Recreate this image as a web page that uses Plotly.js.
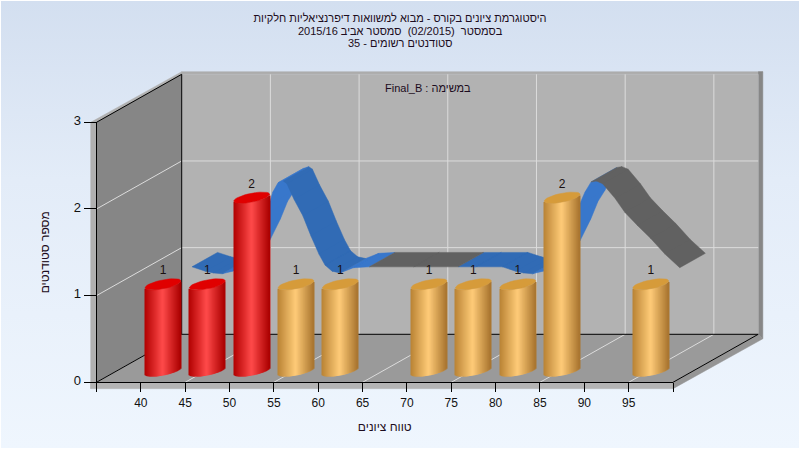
<!DOCTYPE html>
<html><head><meta charset="utf-8">
<script src="https://cdn.plot.ly/plotly-3.0.1.min.js"></script>
<style>
html,body{margin:0;padding:0;background:#fff;width:800px;height:450px;overflow:hidden}
#bg{position:absolute;left:1px;top:1px;width:798px;height:447px;background:linear-gradient(180deg,#d3dff0 0%,#e3ecf8 40%,#eff6fe 100%)}
#chart{position:absolute;left:0;top:0;width:800px;height:450px}
</style></head><body>
<div id="bg"></div><div id="chart"></div>
<script>
// ---- data ----
const binCentres = [42.5,47.5,52.5,57.5,62.5,67.5,72.5,77.5,82.5,87.5,92.5,97.5];
const binCounts  = [1,1,2,1,1,0,1,1,1,2,0,1];
const tickValues = [35,40,45,50,55,60,65,70,75,80,85,90,95,100];
const tickLabels = ['','40','45','50','55','60','65','70','75','80','85','90','95',''];
const countTicks = [0,1,2,3];
const gridScores = [45,55,65,75,85,95];
const gridCounts = [1,2];
const ribbonX = [40,41.5,42.4,43.4,44.6,45.9,47.1,47.9,48.7,49.1,49.7,50.3,50.7,51.5,52.5,53.4,54.3,55,55.8,56.7,58.2,60,65,70,72,75,76.5,77.4,78.4,79.6,80.9,82.1,82.9,83.7,84.3,85,85.6,86.3,87.7,88.8,90.2,91.7,93.3,95];
const ribbonV = [1,0.95,0.93,0.92,0.95,1.14,1.39,1.59,1.72,1.86,1.97,1.99,1.96,1.78,1.59,1.36,1.15,1.02,0.95,0.93,0.99,1,1,1,1,1,0.95,0.93,0.92,0.95,1.14,1.39,1.59,1.72,1.86,1.98,1.99,1.96,1.79,1.63,1.48,1.33,1.15,0.99];
const greyRanges = [[60,70],[85,95]];
const titleLines = ['היסטוגרמת ציונים בקורס - מבוא למשוואות דיפרנציאליות חלקיות','בסמסטר  (02/2015)  סמסטר אביב 2015/16','סטודנטים רשומים - 35'];
const listLabel = 'Final_B : במשימה';
const xTitle = 'טווח ציונים';
const yTitle = 'מספר סטודנטים';

// ---- geometry of the oblique box, in page pixels ----
const W=800,H=450,L=96.5,R=673,Y0=382.3,Y3=122.3;
const pxX=(R-L)/65, pxY=(Y0-Y3)/3;
const depthX=85.2/pxX, depthY=48/pxY;
const proj=(x,v,z)=>[x+z*depthX, v+z*depthY];
const font='"Liberation Sans",Arial,sans-serif';

function poly(pts,color,name){
  return {type:'scatter',mode:'lines',x:pts.map(p=>p&&p[0]),y:pts.map(p=>p&&p[1]),fill:'toself',fillcolor:color,
    line:{color:color,width:0.5},hoverinfo:'skip',showlegend:false,xaxis:'x',yaxis:'y',name:name};
}
function lines(segs,color,width){
  const xs=[],ys=[];
  segs.forEach(s=>{s.forEach(p=>{xs.push(p[0]);ys.push(p[1]);});xs.push(null);ys.push(null);});
  return {type:'scatter',mode:'lines',x:xs,y:ys,line:{color:color,width:width},hoverinfo:'skip',showlegend:false,xaxis:'x',yaxis:'y',connectgaps:false};
}
const bx=5.8/pxX, by=6.4/pxY, ty=2.6/pxY;  // outer rim thickness
const traces=[];
// outer rims
traces.push(poly([[35-bx,-by],[35-bx,3],[35+depthX,3+depthY+ty],[35+depthX,3+depthY],[35,3],[35,0]],'#b0b0b0','rim-left'));
traces.push(poly([[35+depthX,3+depthY],[35+depthX,3+depthY+ty],[100+depthX+bx*0.8,3+depthY+ty],[100+depthX,3+depthY]],'#adadad','rim-top'));
traces.push(poly([[100+depthX,3+depthY+ty],[100+depthX+bx*0.8,3+depthY+ty],[100+depthX+bx*0.8,depthY-by*0.7],[100+depthX,depthY]],'#878787','rim-right'));
traces.push(poly([[35-bx,0],[35-bx,-by],[100,-by],[100,0]],'#b4b4b4','rim-bottom'));
traces.push(poly([[100,0],[100,-by],[100+depthX+bx*0.8,depthY-by*0.7],[100+depthX,depthY]],'#959595','rim-floor'));
// walls
traces.push(poly([proj(35,0,0),proj(35,3,0),proj(35,3,1),proj(35,0,1)],'#868686','left wall'));
traces.push(poly([proj(35,0,1),proj(35,3,1),proj(100,3,1),proj(100,0,1)],'#b2b2b2','back wall'));
traces.push(poly([proj(35,0,0),proj(35,0,1),proj(100,0,1),proj(100,0,0)],'#9a9a9a','floor'));
// grid
const gridSegs=[];
gridScores.forEach(s=>{gridSegs.push([proj(s,0,0),proj(s,0,1),proj(s,3,1)]);});
gridCounts.forEach(c=>{gridSegs.push([proj(35,c,0),proj(35,c,1),proj(100,c,1)]);});
traces.push(lines(gridSegs,'#dcdcdc',1));
// box edges
traces.push(lines([[proj(35,3,0),proj(35,3,1),proj(35,0,1),proj(35,0,0)],[proj(35,0,1),proj(100,0,1),proj(100,0,0)]],'#000',1));
// ribbon
const Z0=0.6,Z1=0.9;
const light=[],dark=[],grey=[];
for(let i=0;i<ribbonX.length-1;i++){
  const q=[proj(ribbonX[i],ribbonV[i],Z0),proj(ribbonX[i+1],ribbonV[i+1],Z0),proj(ribbonX[i+1],ribbonV[i+1],Z1),proj(ribbonX[i],ribbonV[i],Z1)];
  let a=0;q.forEach((p,k)=>{const n=q[(k+1)%4];a+=p[0]*n[1]-n[0]*p[1];});
  if(a<0)q.reverse();
  const isGrey=greyRanges.some(r=>ribbonX[i]>=r[0]&&ribbonX[i+1]<=r[1]);
  const tgt=isGrey?grey:(ribbonV[i+1]-ribbonV[i]>0.005?light:dark);
  tgt.push(...q,q[0],null);
}
traces.push(poly(light,'#3877cb','ribbon rising'));
traces.push(poly(dark,'#316bb5','ribbon falling'));
traces.push(poly(grey,'#616161','ribbon grey'));

// ---- cylinders on the real axes ----
const isFail=c=>c<55;
const redStops=[[176,0,0],[255,74,74],[170,0,0]];
const orangeStops=[[184,130,52],[255,203,120],[168,116,46]];
function mix(st,t){const f=t<0.5?t*2:(t-0.5)*2,a=t<0.5?st[0]:st[1],b=t<0.5?st[1]:st[2];
  return 'rgb('+a.map((v,i)=>Math.round(v+(b[i]-v)*f)).join(',')+')';}
const RX=18, RY=5.6, PHI=Math.atan2(10.9,14.3), BASE=(Y0-371)/pxY, N=36;
function lowerArc(u){ // vertical offset (px, upward) of the lower rim at horizontal offset u
  const th=Math.acos(Math.max(-1,Math.min(1,u/RX)));
  return Math.min(RY*Math.sin(PHI+th),RY*Math.sin(PHI-th));
}
for(let k=0;k<N;k++){
  const u=-RX+(k+0.5)*2*RX/N, t=(k+0.5)/N;
  traces.push({type:'bar',xaxis:'x2',yaxis:'y2',
    x:binCentres.map(c=>c+u/pxX),y:binCounts.map(c=>c>0?c:null),
    base:BASE+lowerArc(u)/pxY,width:1.02/pxX,
    marker:{color:binCentres.map(c=>isFail(c)?mix(redStops,t):mix(orangeStops,t)),line:{width:0}},
    hoverinfo:'skip',showlegend:false});
}
function caps(pred,color){
  const xs=[],ys=[];
  binCentres.forEach((c,i)=>{
    if(binCounts[i]>0&&pred(c)){
      for(let d=0;d<=360;d+=10){const a=d*Math.PI/180;
        xs.push(c+RX*Math.cos(a-PHI)/pxX);ys.push(binCounts[i]+BASE+RY*Math.sin(a)/pxY);}
      xs.push(null);ys.push(null);
    }
  });
  return {type:'scatter',mode:'lines',xaxis:'x2',yaxis:'y2',x:xs,y:ys,fill:'toself',fillcolor:color,line:{color:color,width:0.5},hoverinfo:'skip',showlegend:false};
}
traces.push(caps(isFail,'#e00000'));
traces.push(caps(c=>!isFail(c),'#d69b3a'));
traces.push({type:'scatter',mode:'text',xaxis:'x2',yaxis:'y2',cliponaxis:false,
  x:binCentres.filter((c,i)=>binCounts[i]>0),
  y:binCounts.filter(c=>c>0).map(c=>c+BASE+13/pxY),
  text:binCounts.filter(c=>c>0).map(String),textposition:'middle center',
  textfont:{family:font,size:12,color:'#1a1010'},hoverinfo:'skip',showlegend:false});

const titleFont={family:font,size:11,color:'#1c0c20'};
const axisTitleFont={family:font,size:12,color:'#1c0c20'};
const layout={
  width:W,height:H,margin:{l:0,r:0,t:0,b:0},autosize:false,
  paper_bgcolor:'rgba(0,0,0,0)',plot_bgcolor:'rgba(0,0,0,0)',showlegend:false,barmode:'overlay',
  title:{text:titleLines[0],font:titleFont,x:0.5,xanchor:'center',y:1-18/H,yanchor:'middle'},
  xaxis:{domain:[0,1],range:[35-L/pxX,35+(W-L)/pxX],visible:false,fixedrange:true},
  yaxis:{domain:[0,1],range:[-(H-Y0)/pxY,Y0/pxY],visible:false,fixedrange:true},
  xaxis2:{domain:[L/W,R/W],range:[35,100],anchor:'y2',tickmode:'array',tickvals:tickValues,ticktext:tickLabels,
    ticks:'outside',ticklen:9,tickcolor:'#000',tickwidth:1,showline:true,linecolor:'#000',linewidth:1,showgrid:false,zeroline:false,
    tickfont:{family:font,size:12,color:'#111'},title:{text:xTitle,font:axisTitleFont,standoff:13},fixedrange:true},
  yaxis2:{domain:[(H-Y0)/H,(H-Y3)/H],range:[0,3],anchor:'x2',tickmode:'array',tickvals:countTicks,
    ticks:'outside',ticklen:12,tickcolor:'#000',tickwidth:1,showline:true,linecolor:'#000',linewidth:1,showgrid:false,zeroline:false,ticklabelshift:-2,
    tickfont:{family:font,size:13,color:'#111'},title:{text:yTitle,font:axisTitleFont,standoff:21},fixedrange:true},
  annotations:[
    {xref:'paper',yref:'paper',x:0.5,y:1-30.5/H,xanchor:'center',yanchor:'middle',text:titleLines[1],showarrow:false,font:titleFont,borderpad:0},
    {xref:'paper',yref:'paper',x:0.5,y:1-43/H,xanchor:'center',yanchor:'middle',text:titleLines[2],showarrow:false,font:titleFont,borderpad:0},
    {xref:'paper',yref:'paper',x:427.5/W,y:1-88/H,xanchor:'center',yanchor:'middle',text:listLabel,showarrow:false,font:titleFont}
  ]
};
Plotly.newPlot('chart',traces,layout,{displayModeBar:false});
</script>
</body></html>
